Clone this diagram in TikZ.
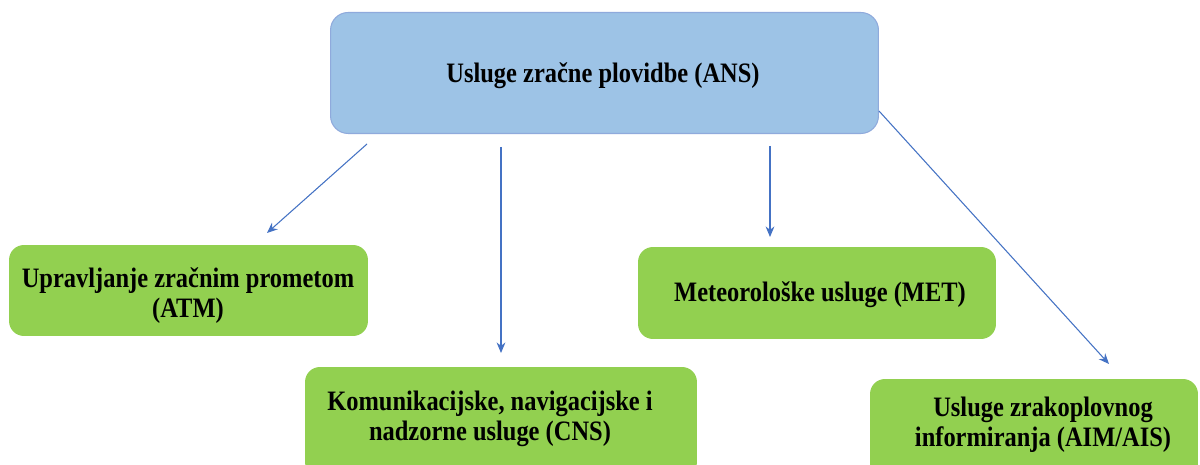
\documentclass[tikz,border=0pt]{standalone}
\usepackage{fontspec}
\setmainfont{Liberation Serif}[FakeStretch=0.87]
\usetikzlibrary{arrows.meta}
\definecolor{ansfill}{HTML}{9DC3E6}
\definecolor{ansline}{HTML}{8FAADC}
\definecolor{gfill}{HTML}{92D050}
\definecolor{arrowc}{HTML}{4472C4}
\tikzset{
  ansbox/.style={draw=ansline, line width=0.6pt, fill=ansfill, rounded corners=10pt, inner sep=0pt},
  gbox/.style={fill=gfill, draw=none, rounded corners=8.5pt, inner sep=0pt},
  lbl/.style={font=\fontsize{16pt}{17pt}\selectfont\bfseries, align=center, inner sep=0pt, text=black},
  arr/.style={draw=arrowc, line width=0.6pt, -{Stealth[length=6pt, width=5pt]}}
}
\begin{document}
\begin{tikzpicture}[x=0.02cm, y=-0.02cm]
\useasboundingbox (0,0) rectangle (1200,465);
\clip (0,0) rectangle (1200,465);
\fill[white] (0,0) rectangle (1200,465);
% boxes
\node[ansbox, minimum width=10.96cm, minimum height=2.42cm] (ans) at (604.5,73) {};
\node[gbox, minimum width=7.18cm, minimum height=1.82cm] (atm) at (188.5,290.5) {};
\node[gbox, minimum width=7.84cm, minimum height=2.2cm] (cns) at (501,422) {};
\node[gbox, minimum width=7.16cm, minimum height=1.84cm] (met) at (817,293) {};
\node[gbox, minimum width=6.56cm, minimum height=2.04cm] (aim) at (1034,430) {};
% labels
\node[lbl] (ansT) at (603,76) {Usluge zračne plovidbe (ANS)};
\node[lbl] (atmT) at (188,296) {Upravljanje zračnim prometom\\(ATM)};
\node[lbl] (cnsT) at (490,419) {Komunikacijske, navigacijske i\\nadzorne usluge (CNS)};
\node[lbl] (metT) at (820,295) {Meteorološke usluge (MET)};
\node[lbl] (aimT) at (1043,425) {Usluge zrakoplovnog\\informiranja (AIM/AIS)};
% connector ends
\coordinate (s1) at (367,144);
\coordinate (e1) at (267,233);
\coordinate (s2) at (501,147);
\coordinate (e2) at (501,353);
\coordinate (s3) at (770,146);
\coordinate (e3) at (770,237);
\coordinate (s4) at (879,111);
\coordinate (e4) at (1109,364);
\draw[arr] (s1) -- (e1);
\draw[arr] (s2) -- (e2);
\draw[arr] (s3) -- (e3);
\draw[arr] (s4) -- (e4);
\end{tikzpicture}
\end{document}
